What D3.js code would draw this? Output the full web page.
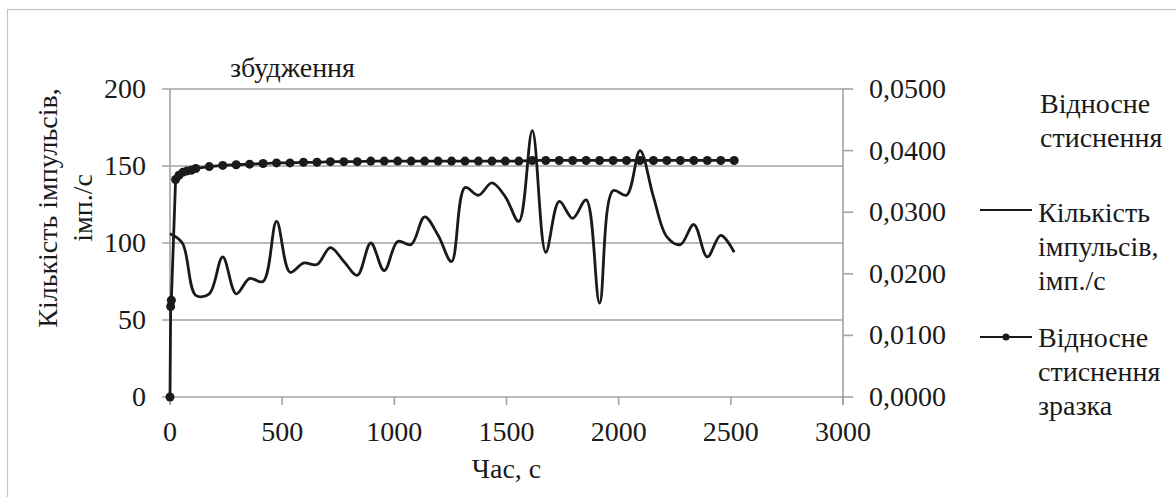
<!DOCTYPE html>
<html>
<head>
<meta charset="utf-8">
<script src="https://cdn.jsdelivr.net/npm/d3@7"></script>
<style>
  svg text, svg g text { font-family: 'Liberation Serif', 'Times New Roman', serif !important; }
</style>
</head>
<body style="margin:0">
<div class="chart"></div>
<script>
// time grid, seconds
const timeSec = [0, 3, 6, 25, 40, 58, 76, 95, 115, 175, 235, 295, 355, 415, 475, 535, 595, 655, 715, 775,
  835, 895, 955, 1015, 1075, 1135, 1195, 1255, 1315, 1375, 1435, 1495, 1555, 1615, 1675, 1735,
  1795, 1855, 1915, 1975, 2035, 2095, 2155, 2215, 2275, 2335, 2395, 2455, 2515];
// relative compression (right axis)
const compression = [0, 0.0147, 0.0157, 0.0353, 0.0360, 0.0365, 0.0367, 0.0368, 0.0371, 0.0374, 0.0376, 0.0377,
  0.0378, 0.0379, 0.0380, 0.0380, 0.0381, 0.0381, 0.0382, 0.0382, 0.0382, 0.0383, 0.0383, 0.0383,
  0.0383, 0.0383, 0.0383, 0.0383, 0.0383, 0.0383, 0.0383, 0.0383, 0.0383, 0.0384, 0.0384, 0.0384,
  0.0384, 0.0384, 0.0384, 0.0384, 0.0384, 0.0384, 0.0384, 0.0384, 0.0384, 0.0384, 0.0384, 0.0384, 0.0384];

const countTime = [0, 55, 115, 175, 235, 295, 355, 415, 475, 535, 595, 655, 715, 775,
  835, 895, 955, 1015, 1075, 1135, 1195, 1255, 1315, 1375, 1435, 1495, 1555, 1615, 1675, 1735,
  1795, 1855, 1915, 1975, 2035, 2095, 2155, 2215, 2275, 2335, 2395, 2455, 2515];
// pulse count, imp/s (left axis)
const counts = [106, 100, 66, 67, 91, 67, 77, 75, 114, 81, 87, 86, 97, 88,
  79, 100, 82, 101, 99, 117, 105, 88, 136, 131, 139, 130, 114, 173, 94, 127,
  116, 128, 61, 134, 131, 160, 130, 104, 99, 112, 91, 105, 94];

const xTicks = [0, 500, 1000, 1500, 2000, 2500, 3000];
const leftTicks = [0, 50, 100, 150, 200];
const rightTicks = [0, 0.01, 0.02, 0.03, 0.04, 0.05];

const titleText = "збудження";
const yTitleLines = ["Кількість імпульсів,", "імп./с"];
const xTitle = "Час, с";
const legendHead = ["Відносне", "стиснення"];
const legendCount = ["Кількість", "імпульсів,", "імп./с"];
const legendComp = ["Відносне", "стиснення", "зразка"];

const width = 1176, height = 497;
const fs = 28;
const ink = "#1a1a1a";
const grid = "#a3a3a3";

const svg = d3.select('.chart').append('svg')
  .attr('width', width)
  .attr('height', height)
  .attr('font-family', 'Liberation Serif')

function label(sel) {
  return sel.attr('font-size', fs + 'px')
    .attr('font-family', 'Liberation Serif')
    .attr('fill', ink)
}

// outer frame
svg.append('rect')
  .attr('x', 7.5).attr('y', 9.5)
  .attr('width', 1185).attr('height', 500)
  .attr('fill', 'none').attr('stroke', '#c4c4c4').attr('stroke-width', 1.2)

const x = d3.scaleLinear().domain([0, 3000]).range([170, 843]);
const yL = d3.scaleLinear().domain([0, 200]).range([397, 89]);
const yR = d3.scaleLinear().domain([0, 0.05]).range([397, 89]);

const ua = d3.formatLocale({decimal: ",", thousands: " ", grouping: [3], currency: ["", ""]});
const fmtR = ua.format(".4f");

// horizontal gridlines (left axis)
svg.selectAll('line.grid')
  .data(leftTicks)
  .enter().append('line')
  .attr('class', 'grid')
  .attr('x1', x(0) - 8).attr('x2', x(3000))
  .attr('y1', d => yL(d)).attr('y2', d => yL(d))
  .attr('stroke', grid).attr('stroke-width', 1.6)

// left and right axis lines
svg.append('line').attr('x1', x(0)).attr('x2', x(0)).attr('y1', yL(200)).attr('y2', yL(0) + 8)
  .attr('stroke', grid).attr('stroke-width', 1.6)
svg.append('line').attr('x1', x(3000)).attr('x2', x(3000)).attr('y1', yL(200)).attr('y2', yL(0) + 8)
  .attr('stroke', grid).attr('stroke-width', 1.6)

// x ticks
svg.selectAll('line.xt')
  .data(xTicks)
  .enter().append('line')
  .attr('class', 'xt')
  .attr('x1', d => x(d)).attr('x2', d => x(d))
  .attr('y1', yL(0)).attr('y2', yL(0) + 8)
  .attr('stroke', grid).attr('stroke-width', 1.6)

label(svg.selectAll('text.xl')
  .data(xTicks)
  .enter().append('text')
  .attr('class', 'xl')
  .attr('x', d => x(d)).attr('y', 441)
  .attr('text-anchor', 'middle'))
  .text(d => d)

// left tick labels
label(svg.selectAll('text.yl')
  .data(leftTicks)
  .enter().append('text')
  .attr('class', 'yl')
  .attr('x', 146).attr('y', d => yL(d) + 9)
  .attr('text-anchor', 'end'))
  .text(d => d)

// right ticks + labels
svg.selectAll('line.rt')
  .data(rightTicks)
  .enter().append('line')
  .attr('class', 'rt')
  .attr('x1', x(3000)).attr('x2', x(3000) + 10)
  .attr('y1', d => yR(d)).attr('y2', d => yR(d))
  .attr('stroke', grid).attr('stroke-width', 1.6)

label(svg.selectAll('text.rl')
  .data(rightTicks)
  .enter().append('text')
  .attr('class', 'rl')
  .attr('x', 869).attr('y', d => yR(d) + 9))
  .text(d => fmtR(d))

// titles
label(svg.append('text')
  .attr('x', 230).attr('y', 77))
  .text(titleText)

label(svg.append('g')
  .attr('transform', 'translate(57,208) rotate(-90)')
  .selectAll('text')
  .data(yTitleLines)
  .enter().append('text')
  .attr('x', 0).attr('y', (d, i) => i * 35)
  .attr('text-anchor', 'middle'))
  .text(d => d)

label(svg.append('text')
  .attr('x', (x(0) + x(3000)) / 2).attr('y', 478)
  .attr('text-anchor', 'middle'))
  .text(xTitle)

// series
const countData = countTime.map((t, i) => ({t: t, v: counts[i]}));
const compData = timeSec.map((t, i) => ({t: t, v: compression[i]}));

svg.append('path')
  .datum(countData)
  .attr('d', d3.line().x(d => x(d.t)).y(d => yL(d.v)).curve(d3.curveCatmullRom.alpha(0.5)))
  .attr('fill', 'none').attr('stroke', ink).attr('stroke-width', 2.8)

svg.append('path')
  .datum(compData)
  .attr('d', d3.line().x(d => x(d.t)).y(d => yR(d.v)))
  .attr('fill', 'none').attr('stroke', ink).attr('stroke-width', 2.8)

svg.selectAll('circle.pt')
  .data(compData)
  .enter().append('circle')
  .attr('class', 'pt')
  .attr('cx', d => x(d.t)).attr('cy', d => yR(d.v))
  .attr('r', 4.5)
  .attr('fill', ink)

// legend
const lx = 1038;
label(svg.selectAll('text.lh')
  .data(legendHead)
  .enter().append('text')
  .attr('class', 'lh')
  .attr('x', 1040).attr('y', (d, i) => 113 + i * 34))
  .text(d => d)

svg.append('line').attr('x1', 980).attr('x2', 1032).attr('y1', 210).attr('y2', 210)
  .attr('stroke', ink).attr('stroke-width', 2)
label(svg.selectAll('text.lc')
  .data(legendCount)
  .enter().append('text')
  .attr('class', 'lc')
  .attr('x', lx).attr('y', (d, i) => 222 + i * 34))
  .text(d => d)

svg.append('line').attr('x1', 980).attr('x2', 1032).attr('y1', 337).attr('y2', 337)
  .attr('stroke', ink).attr('stroke-width', 2)
svg.append('circle').attr('cx', 1006).attr('cy', 337).attr('r', 3.5).attr('fill', ink)
label(svg.selectAll('text.lp')
  .data(legendComp)
  .enter().append('text')
  .attr('class', 'lp')
  .attr('x', lx).attr('y', (d, i) => 347 + i * 34))
  .text(d => d)
</script>
</body>
</html>
